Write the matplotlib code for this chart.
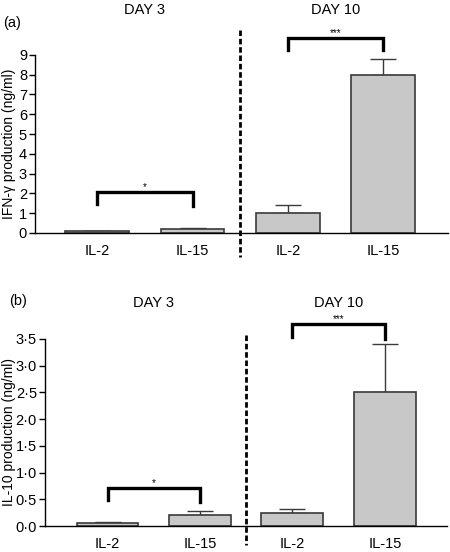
import matplotlib
matplotlib.use('Agg')
import matplotlib.pyplot as plt
from matplotlib.ticker import FuncFormatter

plt.rcParams['font.family'] = ['Liberation Sans', 'DejaVu Sans']

# Data
groups = ['IL-2', 'IL-15', 'IL-2', 'IL-15']
days = ['DAY 3', 'DAY 10']

ifn_mean = [0.1, 0.2, 1.0, 8.0]
ifn_err = [0.02, 0.05, 0.4, 0.8]

il10_mean = [0.05, 0.2, 0.25, 2.5]
il10_err = [0.02, 0.08, 0.06, 0.9]

# significance brackets: (left bar, right bar, top, left leg, right leg, label)
ifn_sig = [(0, 1, 2.05, 1.45, 1.35, '*'), (2, 3, 9.85, 9.25, 9.25, '***')]
il10_sig = [(0, 1, 0.71, 0.49, 0.45, '*'), (2, 3, 3.78, 3.54, 3.5, '***')]

bar_color = '#c8c8c8'
edge_color = '#3a3a3a'

fig = plt.figure(figsize=(4.5, 5.52), dpi=100)


def draw_panel(rect, means, errs, sig, ylim, yticks, ylabel, fmt, xlim,
               divider, day_y, tag, tag_xy):
    ax = fig.add_axes(rect)
    x = list(range(len(means)))
    ax.bar(x, means, width=0.67, color=bar_color, edgecolor=edge_color,
           linewidth=1.2, zorder=2)
    ax.errorbar(x, means, yerr=[[0] * len(errs), errs], fmt='none',
                ecolor=edge_color, elinewidth=1, capsize=9.5, capthick=1,
                zorder=1)
    ax.set_xlim(*xlim)
    ax.set_ylim(*ylim)
    ax.set_yticks(yticks)
    ax.yaxis.set_major_formatter(FuncFormatter(fmt))
    ax.set_xticks(x)
    ax.set_xticklabels(groups)
    ax.tick_params(axis='x', length=0, pad=8, labelsize=10.5)
    ax.tick_params(axis='y', length=4.3, width=1, direction='out',
                   labelsize=10.5, pad=1.5)
    ax.spines['top'].set_visible(False)
    ax.spines['right'].set_visible(False)
    ax.spines['left'].set_linewidth(1)
    ax.spines['bottom'].set_linewidth(1)

    # y label placed by hand so it stays inside the figure
    fig.text(0.019, rect[1] + rect[3] / 2, ylabel, rotation=90,
             ha='center', va='center', fontsize=10)

    # dashed divider between days
    ax.plot([1.5, 1.5], divider, color='black', linestyle=(0, (2, 1)),
            linewidth=2, clip_on=False, zorder=3)

    # significance brackets
    for i, j, top, hl, hr, lab in sig:
        ax.plot([i, i, j, j], [hl, top, top, hr], color='black',
                linewidth=2.4, clip_on=False, solid_joinstyle='miter')
        ax.text((i + j) / 2, top, lab, ha='center', va='bottom', fontsize=7)

    ax.text(0.5, day_y, days[0], ha='center', va='center', fontsize=10.5,
            transform=ax.get_xaxis_transform())
    ax.text(2.5, day_y, days[1], ha='center', va='center', fontsize=10.5,
            transform=ax.get_xaxis_transform())
    fig.text(tag_xy[0], tag_xy[1], tag, ha='left', va='center', fontsize=10.5)
    return ax


draw_panel([0.078, 0.578, 0.918, 0.3225], ifn_mean, ifn_err, ifn_sig,
           (0, 9), range(0, 10), 'IFN-γ production (ng/ml)',
           lambda v, p: '%d' % v, (-0.65, 3.68), (10.26, -1.21), 1.254,
           '(a)', (0.008, 0.958))

draw_panel([0.1, 0.0471, 0.893, 0.3388], il10_mean, il10_err, il10_sig,
           (0, 3.5), [0, 0.5, 1.0, 1.5, 2.0, 2.5, 3.0, 3.5],
           'IL-10 production (ng/ml)',
           lambda v, p: ('%.1f' % v).replace('.', '\u00b7'),
           (-0.676, 3.67), (3.575, -0.356), 1.19, '(b)', (0.02, 0.455))

fig.savefig('out.png', dpi=100)
